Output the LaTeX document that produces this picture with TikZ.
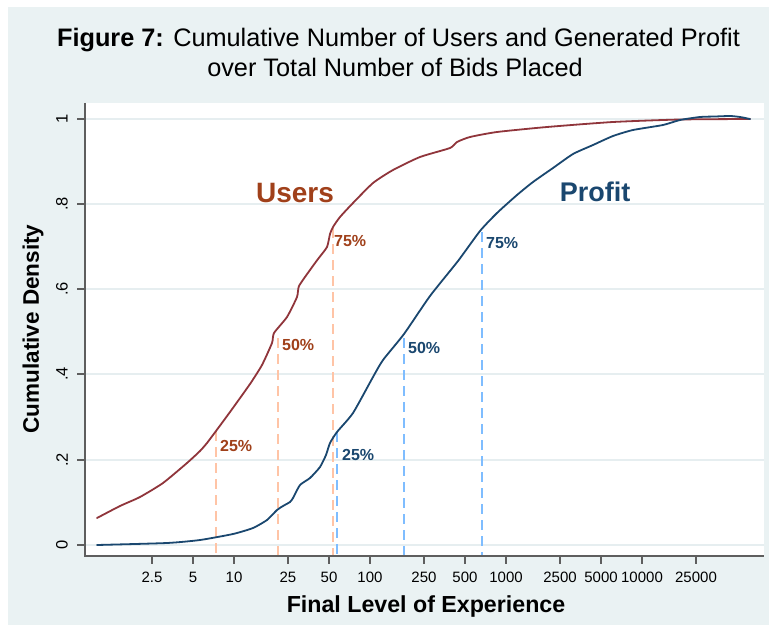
\documentclass[tikz,border=0pt]{standalone}
\usepackage{fontspec}
\setmainfont{Liberation Sans}
\definecolor{bgc}{HTML}{EAF2F3}
\definecolor{gridc}{HTML}{E6EEF0}
\definecolor{axisc}{HTML}{5E5E5E}
\definecolor{usersc}{RGB}{144,53,59}
\definecolor{userst}{RGB}{160,64,26}
\definecolor{profc}{RGB}{26,71,111}
\definecolor{udash}{HTML}{FFC4A6}
\definecolor{pdash}{HTML}{7FBDFF}
\begin{document}
\begin{tikzpicture}[x=1pt,y=-1pt,
  curve/.style={line width=1.8pt,line join=round,line cap=round},
  qdash/.style={line width=1.8pt,dash pattern=on 10pt off 6pt},
  pct/.style={font=\fontsize{16}{18}\selectfont\bfseries,anchor=base west,inner sep=0pt},
  xtl/.style={font=\fontsize{15}{17}\selectfont,anchor=base,inner sep=0pt},
  ytl/.style={font=\fontsize{16.5}{18}\selectfont,rotate=90,inner sep=0pt},
  gridl/.style={draw=gridc,line width=1.5pt},
  tickl/.style={draw=axisc,line width=1.2pt}]
\useasboundingbox (0,0) rectangle (769,626);
\fill[white] (0,0) rectangle (769,626);
\fill[bgc] (8,7) rectangle (769,625);
\fill[white] (85,103) rectangle (764,556);
% grid
\foreach \yy in {119,204,289,374,460,545} \draw[gridl] (85,\yy) -- (764,\yy);
% dashed quartile lines
\draw[qdash,udash] (216,431) -- (216,556);
\draw[qdash,udash] (278,338) -- (278,556);
\draw[qdash,udash] (333,228) -- (333,556);
\draw[qdash,pdash] (337,432) -- (337,556);
\draw[qdash,pdash] (404,338) -- (404,556);
\draw[qdash,pdash] (482,232) -- (482,556);
% users curve
\draw[curve,usersc] plot[smooth,tension=0.35] coordinates {
(97,518) (120,506) (140,497) (163,483) (187,463) (200,451) (207,443) (216,431) (230,412) (250,384) (262,365) (272,343) (274,333)
(287,317) (297,297) (299,286) (310,270) (318,259) (327,247) (330,234) (333,227) (340,217) (353,203) (373,183) (393,170)
(420,157) (450,148) (457,142) (470,137) (497,132) (547,127) (613,122) (680,119.5) (750,119)};
% profit curve
\draw[curve,profc] plot[smooth,tension=0.35] coordinates {
(97,545) (167,543) (200,540) (233,534) (253,528) (267,520) (277,510) (283,506) (290,502) (293,498) (300,485) (310,478) (320,467)
(326,455) (330,443) (337,432) (353,413) (373,377) (383,360) (404,334) (430,296) (458,261) (480,231) (497,213) (517,195) (533,182)
(553,168) (573,154) (593,145) (613,136) (633,130) (663,125) (680,120) (700,117) (715,116.5) (730,116) (740,117) (750,119)};
% axes
\draw[axisc,line width=1.5pt] (85,103) -- (85,556) -- (764,556);
\foreach \yy in {119,204,289,374,460,545} \draw[tickl] (77,\yy) -- (85,\yy);
\foreach \xx/\lab [count=\i] in {152/2.5,193/5,234/10,288/25,329/50,370/100,424/250,465/500,506/1000,560/2500,601/5000,642/10000,696/25000}{
  \draw[tickl] (\xx,556) -- (\xx,564);
  \node[xtl] (xt\i) at (\xx,582) {\lab};
}
\node[ytl] (y0) at (62,545) {0};
\node[ytl] (y2) at (62,460) {.2};
\node[ytl] (y4) at (62,374) {.4};
\node[ytl] (y6) at (62,289) {.6};
\node[ytl] (y8) at (62,204) {.8};
\node[ytl] (y10) at (62,119) {1};
% axis titles
\node[font=\fontsize{22.5}{24}\selectfont\bfseries,rotate=90,inner sep=0pt] (ytitle) at (33,329) {Cumulative Density};
\node[font=\fontsize{23.2}{24}\selectfont\bfseries,anchor=base,inner sep=0pt] (xtitle) at (426,612) {Final Level of Experience};
% title
\node[font=\fontsize{25.3}{30}\selectfont,anchor=base,inner sep=0pt] (t1) at (398.5,47) {\textbf{Figure 7:} Cumulative Number of Users and Generated Profit};
\node[font=\fontsize{25.3}{30}\selectfont,anchor=base,inner sep=0pt] (t2) at (395,77) {over Total Number of Bids Placed};
% series labels
\node[font=\fontsize{28}{30}\selectfont\bfseries,text=userst,anchor=base,inner sep=0pt] (users) at (295,202) {Users};
\node[font=\fontsize{27}{30}\selectfont\bfseries,text=profc,anchor=base,inner sep=0pt] (profit) at (595,201) {Profit};
% percent labels
\node[pct,text=userst] (u25) at (220,451) {25\%};
\node[pct,text=userst] (u50) at (282,350) {50\%};
\node[pct,text=userst] (u75) at (334,246) {75\%};
\node[pct,text=profc] (p25) at (342,460) {25\%};
\node[pct,text=profc] (p50) at (408,353) {50\%};
\node[pct,text=profc] (p75) at (486,248) {75\%};
\end{tikzpicture}
\end{document}
